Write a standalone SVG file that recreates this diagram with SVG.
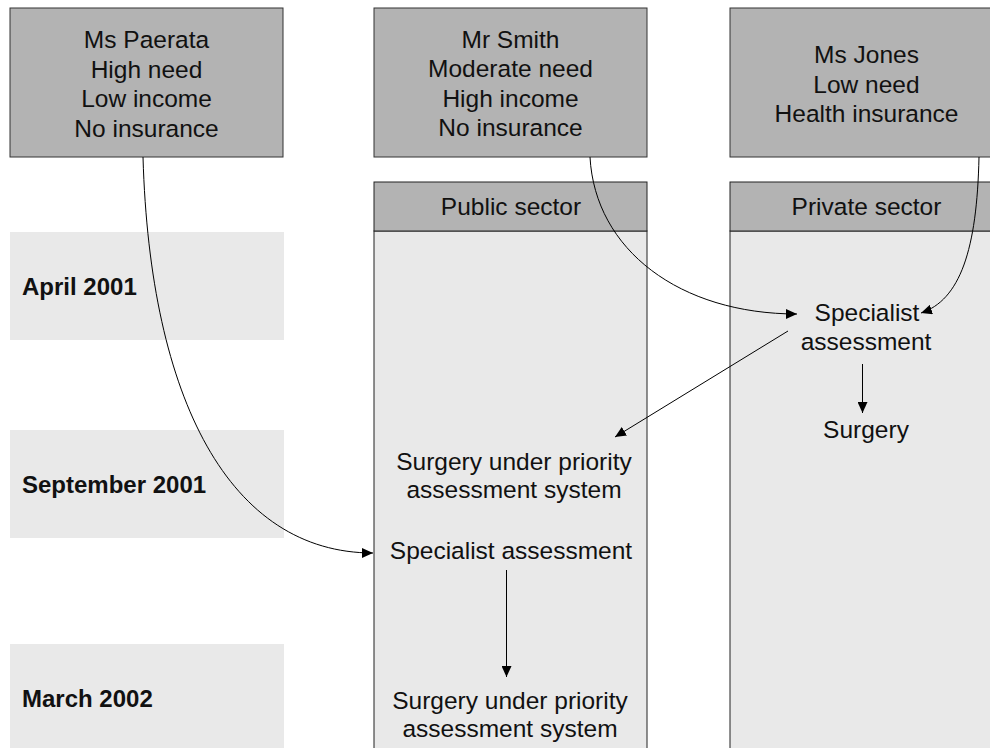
<svg xmlns="http://www.w3.org/2000/svg" width="990" height="748" viewBox="0 0 990 748">
  <style>
    .person { fill: #b3b3b3; stroke: #333333; stroke-width: 1; }
    .head { fill: #b3b3b3; stroke: #222222; stroke-width: 1; }
    .col { fill: #e9e9e9; stroke: #222222; stroke-width: 1; }
    .band { fill: #e9e9e9; }
    text { font-family: "Liberation Sans", Arial, sans-serif; fill: #111111; }
    .t { font-size: 24.5px; text-anchor: middle; }
    .lbl { font-size: 24px; font-weight: bold; }
    .conn { fill: none; stroke: #000000; stroke-width: 1; }
  </style>
  <defs>
    <marker id="arrow" markerUnits="userSpaceOnUse" markerWidth="12" markerHeight="10" refX="11" refY="5" orient="auto">
      <path d="M0,0 L11,5 L0,10 Z" fill="#000000"/>
    </marker>
  </defs>
  <rect width="990" height="748" fill="#ffffff"/>

  <!-- time bands -->
  <g id="row-apr2001">
    <rect class="band" x="10" y="232" width="274" height="108"/>
    <text class="lbl" x="22" y="295">April 2001</text>
  </g>
  <g id="row-sep2001">
    <rect class="band" x="10" y="430" width="274" height="108"/>
    <text class="lbl" x="22" y="493">September 2001</text>
  </g>
  <g id="row-mar2002">
    <rect class="band" x="10" y="644" width="274" height="110"/>
    <text class="lbl" x="22" y="707">March 2002</text>
  </g>

  <!-- sector columns -->
  <g id="public-sector">
    <rect class="col" x="374" y="231" width="273" height="530"/>
    <rect class="head" x="374" y="182" width="273" height="49"/>
    <text class="t" x="511" y="215">Public sector</text>
  </g>
  <g id="private-sector">
    <rect class="col" x="730" y="231" width="273" height="530"/>
    <rect class="head" x="730" y="182" width="273" height="49"/>
    <text class="t" x="866.5" y="215">Private sector</text>
  </g>

  <!-- people -->
  <g id="ms-paerata">
    <rect class="person" x="10" y="8" width="273" height="149"/>
    <text class="t" x="146.5" y="48.3">Ms Paerata</text>
    <text class="t" x="146.5" y="77.8">High need</text>
    <text class="t" x="146.5" y="107.3">Low income</text>
    <text class="t" x="146.5" y="136.8">No insurance</text>
  </g>
  <g id="mr-smith">
    <rect class="person" x="374" y="8" width="273" height="149"/>
    <text class="t" x="510.5" y="47.5">Mr Smith</text>
    <text class="t" x="510.5" y="77">Moderate need</text>
    <text class="t" x="510.5" y="106.5">High income</text>
    <text class="t" x="510.5" y="136">No insurance</text>
  </g>
  <g id="ms-jones">
    <rect class="person" x="730" y="8" width="273" height="149"/>
    <text class="t" x="866.5" y="63.3">Ms Jones</text>
    <text class="t" x="866.5" y="92.5">Low need</text>
    <text class="t" x="866.5" y="121.7">Health insurance</text>
  </g>

  <!-- pathway steps -->
  <g id="private-assessment">
    <text class="t" x="867" y="321">Specialist</text>
    <text class="t" x="866" y="350">assessment</text>
  </g>
  <g id="private-surgery">
    <text class="t" x="866" y="438">Surgery</text>
  </g>
  <g id="public-surgery-sep">
    <text class="t" x="514" y="470">Surgery under priority</text>
    <text class="t" x="514" y="498">assessment system</text>
  </g>
  <g id="public-assessment">
    <text class="t" x="511" y="559">Specialist assessment</text>
  </g>
  <g id="public-surgery-mar">
    <text class="t" x="510" y="708.5">Surgery under priority</text>
    <text class="t" x="510" y="737">assessment system</text>
  </g>

  <!-- connectors -->
  <g id="connectors">
    <path class="conn" d="M143,157 C150,400 230,553 373,553" marker-end="url(#arrow)"/>
    <path class="conn" d="M590,157 C595,250 680,314 797,314" marker-end="url(#arrow)"/>
    <path class="conn" d="M979,157 C977,250 960,300 921,313" marker-end="url(#arrow)"/>
    <path class="conn" d="M788,331 L615,437" marker-end="url(#arrow)"/>
    <path class="conn" d="M862.5,364 L862.5,413" marker-end="url(#arrow)"/>
    <path class="conn" d="M506.5,570 L506.5,677" marker-end="url(#arrow)"/>
  </g>
</svg>
